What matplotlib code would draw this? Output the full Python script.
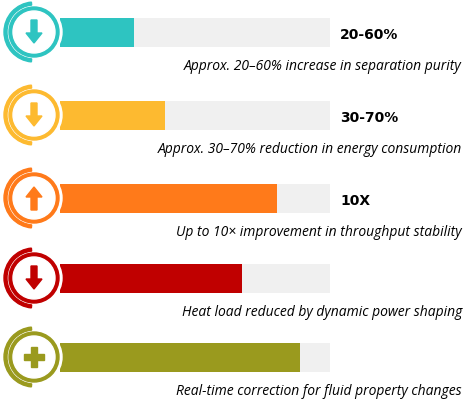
import numpy as np
import matplotlib.pyplot as plt
from matplotlib.patches import Circle, Wedge, Polygon

colors = ['#2EC4C1', '#FDBA30', '#FF7A1A', '#C00000', '#9A9A1E']
fill_end = [134, 165, 277, 242, 300]   # pixel scale, bar track runs 62..330
value_labels = ['20-60%', '30-70%', '10X', '', '']
captions = ['Approx. 20\u201360% increase in separation purity',
            'Approx. 30\u201370% reduction in energy consumption',
            'Up to 10\u00d7 improvement in throughput stability',
            'Heat load reduced by dynamic power shaping',
            'Real-time correction for fluid property changes']
icons = ['down', 'down', 'up', 'down', 'plus']
row_y = [33, 116, 199, 279, 358]

fig = plt.figure(figsize=(4.69, 4.02), dpi=100)
ax = fig.add_axes([0, 0, 1, 1])
ax.set_xlim(0, 469)
ax.set_ylim(402, 0)
ax.axis('off')

x0, x1, h = 60, 330, 29
ax.barh(row_y, [x1 - x0] * 5, left=x0, height=h, color='#F0F0F0', zorder=1)
ax.barh(row_y, np.array(fill_end) - x0, left=x0, height=h, color=colors, zorder=2)

for y, c, lab, cap, ic in zip(row_y, colors, value_labels, captions, icons):
    cx = 34
    ax.add_patch(Circle((cx, y), 28, color='white', zorder=3))
    ax.add_patch(Wedge((cx, y), 30, 95, 265, width=3, color=c, zorder=3))
    ax.add_patch(Circle((cx, y), 25, color=c, zorder=3))
    ax.add_patch(Circle((cx, y), 21, color='white', zorder=4))
    if ic == 'plus':
        ax.add_patch(Polygon([(cx-3, y-10), (cx+3, y-10), (cx+3, y-3), (cx+10, y-3),
                              (cx+10, y+3), (cx+3, y+3), (cx+3, y+10), (cx-3, y+10),
                              (cx-3, y+3), (cx-10, y+3), (cx-10, y-3), (cx-3, y-3)],
                             color=c, zorder=5))
    else:
        s = 1 if ic == 'down' else -1
        pts = [(cx-3, y-12*s), (cx+3, y-12*s), (cx+3, y+1*s), (cx+8, y+1*s),
               (cx, y+11*s), (cx-8, y+1*s), (cx-3, y+1*s)]
        ax.add_patch(Polygon(pts, color=c, zorder=5))
    if lab:
        ax.text(340, y + 2, lab, fontsize=10, fontweight='bold', va='center', ha='left')
    ax.text(462, y + 34, cap, fontsize=10, style='italic', va='center', ha='right',
            family='Open Sans')

fig.savefig('out.png', dpi=100)
